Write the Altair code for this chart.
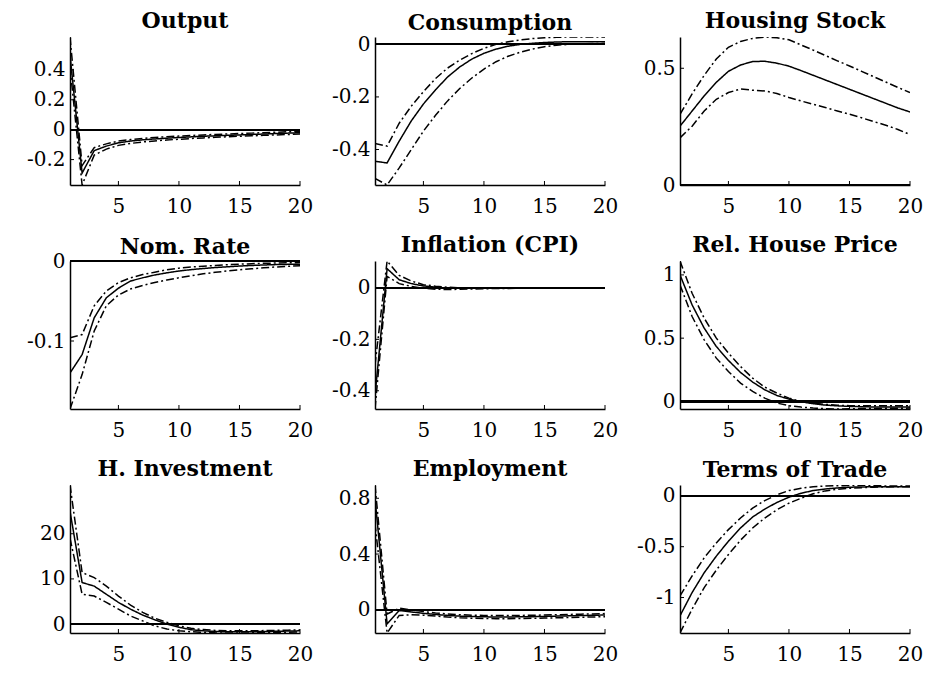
import altair as alt
import pandas as pd

steps = list(range(1, 21))
x_ticks = [5, 10, 15, 20]

# responses: median (solid) and the two bands (dash-dot)
output_med = [0.50, -0.29, -0.14, -0.11, -0.088, -0.076, -0.068, -0.062, -0.057, -0.052,
              -0.048, -0.044, -0.041, -0.038, -0.035, -0.032, -0.029, -0.026, -0.023, -0.020]
output_hi = [0.62, -0.24, -0.12, -0.095, -0.076, -0.066, -0.058, -0.052, -0.047, -0.043,
             -0.039, -0.035, -0.032, -0.029, -0.026, -0.023, -0.020, -0.017, -0.014, -0.011]
output_lo = [0.42, -0.37, -0.17, -0.13, -0.105, -0.092, -0.082, -0.075, -0.069, -0.064,
             -0.059, -0.055, -0.051, -0.047, -0.044, -0.041, -0.038, -0.035, -0.032, -0.029]

cons_med = [-0.445, -0.451, -0.368, -0.291, -0.227, -0.173, -0.124, -0.086, -0.056, -0.034,
            -0.018, -0.007, 0.0, 0.004, 0.007, 0.009, 0.010, 0.010, 0.010, 0.010]
cons_hi = [-0.377, -0.387, -0.30, -0.235, -0.18, -0.13, -0.09, -0.06, -0.035, -0.015,
           0.0, 0.01, 0.017, 0.022, 0.025, 0.027, 0.028, 0.028, 0.028, 0.028]
cons_lo = [-0.51, -0.535, -0.47, -0.40, -0.33, -0.27, -0.215, -0.168, -0.128, -0.094,
           -0.066, -0.045, -0.030, -0.018, -0.009, -0.003, 0.0, 0.002, 0.003, 0.004]

house_med = [0.252, 0.317, 0.382, 0.44, 0.487, 0.514, 0.529, 0.530, 0.522, 0.509,
             0.49, 0.47, 0.45, 0.43, 0.41, 0.39, 0.37, 0.35, 0.33, 0.313]
house_hi = [0.303, 0.39, 0.47, 0.54, 0.59, 0.615, 0.628, 0.634, 0.631, 0.622,
            0.60, 0.578, 0.555, 0.532, 0.51, 0.487, 0.464, 0.441, 0.418, 0.396]
house_lo = [0.202, 0.252, 0.317, 0.367, 0.396, 0.411, 0.406, 0.403, 0.392, 0.375,
            0.36, 0.346, 0.332, 0.317, 0.303, 0.288, 0.272, 0.256, 0.238, 0.216]

rate_med = [-0.14, -0.117, -0.071, -0.046, -0.034, -0.025, -0.021, -0.0175, -0.0148, -0.0125,
            -0.0108, -0.0094, -0.0082, -0.0072, -0.0063, -0.0056, -0.005, -0.0045, -0.0042, -0.004]
rate_hi = [-0.096, -0.092, -0.056, -0.0375, -0.027, -0.021, -0.017, -0.014, -0.011, -0.009,
           -0.0075, -0.0065, -0.0055, -0.0047, -0.004, -0.0034, -0.0029, -0.0025, -0.0022, -0.002]
rate_lo = [-0.185, -0.142, -0.0875, -0.056, -0.0425, -0.035, -0.0305, -0.027, -0.0237, -0.021,
           -0.0185, -0.016, -0.0142, -0.0125, -0.011, -0.0097, -0.0085, -0.0075, -0.0067, -0.006]

infl_med = [-0.42, 0.075, 0.032, 0.017, 0.008, 0.003, 0.0, -0.001, -0.001, -0.001,
            0.0, 0.0, 0.0, 0.0, 0.0, 0.0, 0.0, 0.0, 0.0, 0.0]
infl_hi = [-0.30, 0.105, 0.049, 0.027, 0.013, 0.007, 0.003, 0.001, 0.0, 0.0,
           0.0, 0.0, 0.0, 0.0, 0.0, 0.0, 0.0, 0.0, 0.0, 0.0]
infl_lo = [-0.471, 0.045, 0.017, 0.006, -0.001, -0.005, -0.006, -0.005, -0.004, -0.003,
           -0.002, -0.002, -0.001, -0.001, -0.001, -0.001, -0.001, -0.001, -0.001, -0.001]

price_med = [1.0, 0.763, 0.579, 0.434, 0.324, 0.229, 0.153, 0.092, 0.047, 0.018,
             -0.003, -0.018, -0.029, -0.035, -0.039, -0.042, -0.044, -0.045, -0.045, -0.045]
price_hi = [1.11, 0.855, 0.658, 0.50, 0.382, 0.276, 0.184, 0.113, 0.066, 0.026,
            0.0, -0.013, -0.024, -0.03, -0.034, -0.035, -0.035, -0.035, -0.034, -0.034]
price_lo = [0.921, 0.671, 0.487, 0.342, 0.237, 0.145, 0.079, 0.026, -0.013, -0.034,
            -0.045, -0.053, -0.057, -0.06, -0.058, -0.057, -0.056, -0.055, -0.054, -0.053]

hinv_med = [25.0, 9.2, 8.4, 6.6, 4.8, 3.3, 2.0, 0.95, 0.0, -0.7,
            -1.25, -1.5, -1.65, -1.7, -1.7, -1.7, -1.65, -1.6, -1.55, -1.5]
hinv_hi = [30.8, 11.4, 10.3, 8.4, 6.2, 4.2, 2.6, 1.3, 0.4, -0.4,
           -0.95, -1.2, -1.4, -1.5, -1.5, -1.5, -1.45, -1.4, -1.35, -1.3]
hinv_lo = [19.0, 6.6, 6.2, 4.8, 3.3, 1.8, 0.7, -0.4, -1.1, -1.5,
           -1.7, -1.85, -1.95, -1.98, -1.97, -1.95, -1.9, -1.85, -1.8, -1.75]

emp_med = [0.80, -0.10, -0.005, -0.015, -0.025, -0.033, -0.04, -0.045, -0.048, -0.05,
           -0.051, -0.051, -0.05, -0.049, -0.047, -0.045, -0.043, -0.041, -0.039, -0.037]
emp_hi = [0.895, -0.03, 0.012, 0.0, -0.012, -0.022, -0.03, -0.035, -0.038, -0.04,
          -0.041, -0.041, -0.04, -0.039, -0.037, -0.035, -0.033, -0.031, -0.029, -0.027]
emp_lo = [0.62, -0.166, -0.04, -0.035, -0.038, -0.045, -0.052, -0.057, -0.06, -0.062,
          -0.063, -0.063, -0.062, -0.061, -0.059, -0.057, -0.055, -0.053, -0.051, -0.049]

tot_med = [-1.18, -0.951, -0.756, -0.593, -0.446, -0.316, -0.208, -0.13, -0.065, -0.013,
           0.026, 0.052, 0.068, 0.078, 0.085, 0.088, 0.09, 0.091, 0.091, 0.091]
tot_hi = [-0.984, -0.788, -0.609, -0.463, -0.332, -0.218, -0.12, -0.046, 0.01, 0.052,
          0.075, 0.09, 0.097, 0.1, 0.102, 0.104, 0.105, 0.106, 0.107, 0.107]
tot_lo = [-1.349, -1.114, -0.902, -0.73, -0.577, -0.436, -0.316, -0.218, -0.137, -0.072,
          -0.023, 0.02, 0.049, 0.065, 0.074, 0.081, 0.085, 0.088, 0.09, 0.091]

panels = [
    ("Output", output_med, output_lo, output_hi, [-0.2, 0, 0.2, 0.4]),
    ("Consumption", cons_med, cons_lo, cons_hi, [-0.4, -0.2, 0]),
    ("Housing Stock", house_med, house_lo, house_hi, [0, 0.5]),
    ("Nom. Rate", rate_med, rate_lo, rate_hi, [-0.1, 0]),
    ("Inflation (CPI)", infl_med, infl_lo, infl_hi, [-0.4, -0.2, 0]),
    ("Rel. House Price", price_med, price_lo, price_hi, [0, 0.5, 1]),
    ("H. Investment", hinv_med, hinv_lo, hinv_hi, [0, 10, 20]),
    ("Employment", emp_med, emp_lo, emp_hi, [0, 0.4, 0.8]),
    ("Terms of Trade", tot_med, tot_lo, tot_hi, [-1, -0.5, 0]),
]

W, H = 230, 148
FONT = "DejaVu Serif"
LABEL_HALF = 12     # half height of a y tick label box
TITLE_GAP = 4


def panel(title, med, lo, hi, yticks):
    df = pd.concat([
        pd.DataFrame({"step": steps, "value": med, "series": "med"}),
        pd.DataFrame({"step": steps, "value": lo, "series": "lo"}),
        pd.DataFrame({"step": steps, "value": hi, "series": "hi"}),
    ], ignore_index=True)
    # tight limits around everything drawn, zero line included
    allv = med + lo + hi + [0]
    ymin, ymax = min(allv), max(allv)
    xs = alt.Scale(domain=[1, 20], nice=False, zero=False)
    ys = alt.Scale(domain=[ymin, ymax], nice=False, zero=False)
    xax = alt.Axis(values=x_ticks, title=None, labelPadding=11)
    yax = alt.Axis(values=yticks, title=None, labelPadding=5, labelExpr="'' + datum.value")

    lines = alt.Chart(df).mark_line(color="black", strokeWidth=1.5, clip=True).encode(
        x=alt.X("step:Q", scale=xs, axis=xax),
        y=alt.Y("value:Q", scale=ys, axis=yax),
        strokeDash=alt.StrokeDash("series:N", legend=None,
                                  scale=alt.Scale(domain=["med", "lo", "hi"],
                                                  range=[[1, 0], [8, 3, 2, 3], [8, 3, 2, 3]])),
        detail="series:N",
    )
    zero = alt.Chart(df).mark_rule(color="black", strokeWidth=1.5).encode(
        y=alt.Y(datum=0, scale=ys, axis=yax)
    )
    # inward tick marks
    xt = alt.Chart(pd.DataFrame({"t": x_ticks})).mark_rule(color="black", strokeWidth=1).encode(
        x=alt.X("t:Q", scale=xs, axis=xax), y=alt.value(H), y2=alt.value(H - 4)
    )
    yt = alt.Chart(pd.DataFrame({"t": yticks})).mark_rule(color="black", strokeWidth=1).encode(
        y=alt.Y("t:Q", scale=ys, axis=yax), x=alt.value(0), x2=alt.value(4)
    )
    # a top tick label pokes above the plot and would push the title up
    top_gap = (ymax - max(yticks)) / (ymax - ymin) * H
    off = TITLE_GAP - max(0, LABEL_HALF - top_gap)
    return alt.layer(zero, lines, xt, yt).properties(
        width=W, height=H,
        title=alt.Title(title, font=FONT, fontSize=22, fontWeight="bold",
                        offset=off, color="black"),
    )


chart = alt.concat(
    *[panel(*p) for p in panels], columns=3,
    spacing={"row": 76, "column": 75}, bounds="flush",
).properties(
    padding={"left": 18, "top": 2, "right": 0, "bottom": 0},
).configure_view(
    stroke=None
).configure_axis(
    grid=False, ticks=False, domainColor="black", domainWidth=1.5,
    labelFont=FONT, labelFontSize=20, labelColor="black", labelFlush=False,
    labelOverlap=False,
)

chart.save("out.html", embed_options={"renderer": "svg", "actions": False})
